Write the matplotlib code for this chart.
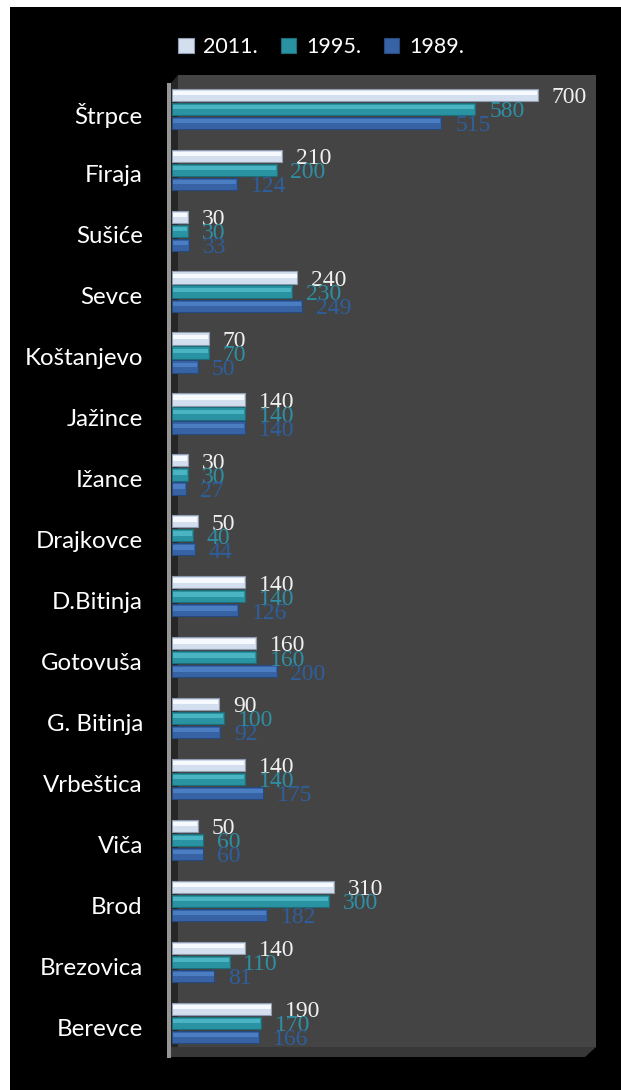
import matplotlib.pyplot as plt
from matplotlib.patches import Rectangle, Polygon, Patch

villages = ['Štrpce', 'Firaja', 'Sušiće', 'Sevce', 'Koštanjevo', 'Jažince',
            'Ižance', 'Drajkovce', 'D.Bitinja', 'Gotovuša', 'G. Bitinja',
            'Vrbeštica', 'Viča', 'Brod', 'Brezovica', 'Berevce']
pop_2011 = [700, 210, 30, 240, 70, 140, 30, 50, 140, 160, 90, 140, 50, 310, 140, 190]
pop_1995 = [580, 200, 30, 230, 70, 140, 30, 40, 140, 160, 100, 140, 60, 300, 110, 170]
pop_1989 = [515, 124, 33, 249, 50, 140, 27, 44, 126, 200, 92, 175, 60, 182, 81, 166]
years = ['2011.', '1995.', '1989.']

W, H = 621, 1090


def fx(px):
    return px / W


def fy(py):
    return 1 - py / H


def pts(coords):
    return [(fx(x), fy(y)) for x, y in coords]


fig = plt.figure(figsize=(W / 100, H / 100), dpi=100, facecolor='white')

# black card behind everything
fig.add_artist(Rectangle((fx(10), 0), 1 - fx(10), fy(7), transform=fig.transFigure,
                         facecolor='black', edgecolor='none', zorder=-10))
# fake 3d box: back wall, side wall, floor
fig.add_artist(Polygon(pts([(178, 75), (596, 75), (596, 1047), (178, 1047)]),
                       transform=fig.transFigure, facecolor='#444444', edgecolor='none', zorder=-5))
fig.add_artist(Polygon(pts([(171, 83), (178, 75), (178, 1047), (171, 1057)]),
                       transform=fig.transFigure, facecolor='#262626', edgecolor='none', zorder=-5))
fig.add_artist(Polygon(pts([(171, 1047), (596, 1047), (585, 1057), (171, 1057)]),
                       transform=fig.transFigure, facecolor='#383838', edgecolor='none', zorder=-5))
fig.add_artist(Rectangle((fx(167.5), fy(1058)), fx(171) - fx(167.5), (1058 - 83) / H,
                         transform=fig.transFigure, facecolor='#959595', edgecolor='none', zorder=-4))

ax = fig.add_axes([fx(172), fy(1057), fx(596) - fx(172), (1057 - 75) / H])
ax.set_facecolor('none')

series = [pop_2011, pop_1995, pop_1989]
base_cols = ['#d3deee', '#2a93a3', '#3763a5']
edge_cols = ['#8e9bb0', '#1d6e7a', '#274a7e']
light_cols = ['#f6f9fd', '#4bb4c2', '#4b7dc2']
text_cols = ['#f0f0f0', '#2e8fa3', '#2e5f9c']
offsets = [-0.30, -0.07, 0.16]
bar_h = 0.2

for vals, bc, ec, lc, tc, off in zip(series, base_cols, edge_cols, light_cols, text_cols, offsets):
    ys = [i + off for i in range(len(villages))]
    ax.barh(ys, vals, height=bar_h, color=bc, edgecolor=ec, linewidth=0.8, zorder=3)
    ax.barh([y - 0.03 for y in ys], [v - 3 for v in vals], height=0.07, left=1.5,
            color=lc, linewidth=0, zorder=4)
    for v, y in zip(vals, ys):
        ax.annotate(str(v), (v, y), xytext=(10, -2), textcoords='offset points',
                    va='center', ha='left', fontsize=17, color=tc,
                    fontfamily='Liberation Serif', zorder=5)

ax.set_xlim(0, 811)
ax.set_ylim(15.49, -0.624)
ax.set_yticks(range(len(villages)))
ax.set_yticklabels(villages, fontsize=17.3, color='white', fontfamily='Lato')
ax.tick_params(axis='y', length=0, pad=21)
ax.set_xticks([])
for s in ax.spines.values():
    s.set_visible(False)

handles = [Patch(facecolor=c, edgecolor=e, linewidth=0.8) for c, e in zip(base_cols, edge_cols)]
fig.legend(handles, years, loc='center', bbox_to_anchor=(fx(321), fy(47)), ncol=3,
           frameon=False, handlelength=0.72, handleheight=0.72, handletextpad=0.45,
           columnspacing=1.05, prop={'family': 'Lato', 'size': 15.5}, labelcolor='white')

fig.savefig('out.png', dpi=100, facecolor='white')
